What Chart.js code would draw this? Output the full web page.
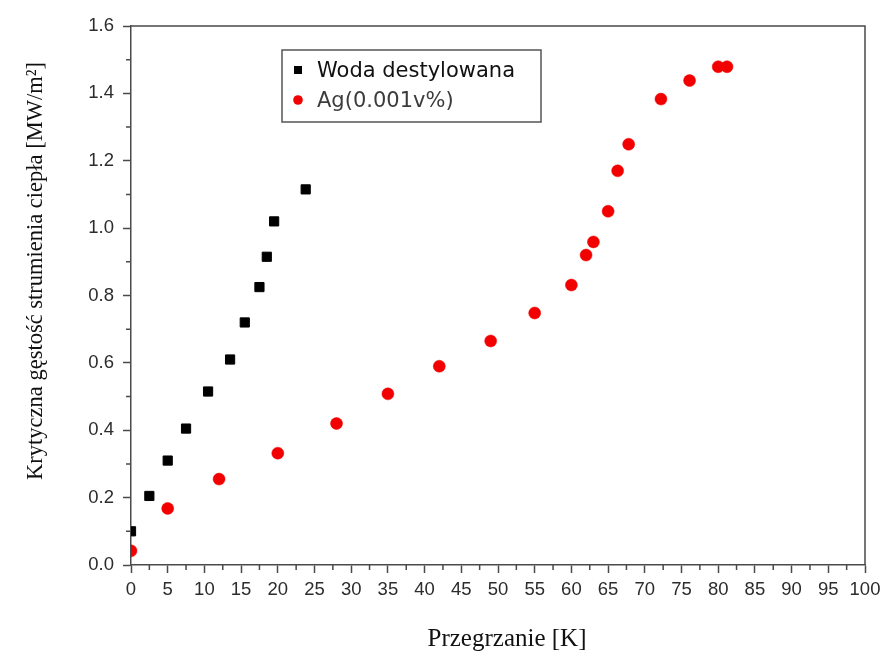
<!DOCTYPE html>
<html>
<head>
<meta charset="utf-8">
<script src="https://cdn.jsdelivr.net/npm/chart.js@4"></script>
<style>
    html, body { margin: 0; padding: 0; background: #fff; }
    canvas { display: block; }
</style>
</head>
<body>
<canvas id="chfChart" width="887" height="652"></canvas>
<script>
// superheat [K] vs critical heat flux [MW/m2]
const waterX = [0, 2.5, 5, 7.5, 10.5, 13.5, 15.5, 17.5, 18.5, 19.5, 23.8];
const waterY = [0.10, 0.205, 0.31, 0.405, 0.515, 0.61, 0.72, 0.825, 0.915, 1.02, 1.115];
const agX = [0, 5, 12, 20, 28, 35, 42, 49, 55, 60, 62, 63, 65, 66.3, 67.8, 72.2, 76.1, 80, 81.2];
const agY = [0.042, 0.168, 0.255, 0.332, 0.42, 0.508, 0.59, 0.665, 0.748, 0.831, 0.92, 0.959, 1.05, 1.17, 1.249, 1.383, 1.438, 1.479, 1.479];

const seriesNames = ['Woda destylowana', 'Ag(0.001v%)'];
const xTitle = 'Przegrzanie [K]';
const yTitle = 'Krytyczna gęstość strumienia ciepła [MW/m²]';

const axisColor = '#4a4a4a';
const tickFont = { family: 'Liberation Sans, Arial, sans-serif', size: 18.5 };

function toPoints(xs, ys) {
    return xs.map(function (x, i) { return { x: x, y: ys[i] }; });
}

// frame, minor ticks, axis titles and the boxed legend
const decorations = {
    id: 'decorations',
    afterDraw: function (chart) {
        const ctx = chart.ctx;
        const a = chart.chartArea;
        const xs = chart.scales.x;
        const ys = chart.scales.y;

        ctx.save();
        ctx.strokeStyle = axisColor;
        ctx.lineWidth = 1.5;
        ctx.beginPath();
        ctx.moveTo(a.left, a.top);
        ctx.lineTo(a.right, a.top);
        ctx.lineTo(a.right, a.bottom);
        ctx.stroke();

        ctx.beginPath();
        for (let v = 2.5; v < 100; v += 5) {
            const px = xs.getPixelForValue(v);
            ctx.moveTo(px, a.bottom);
            ctx.lineTo(px, a.bottom + 5);
        }
        for (let v = 0.1; v < 1.6; v += 0.2) {
            const py = ys.getPixelForValue(v);
            ctx.moveTo(a.left, py);
            ctx.lineTo(a.left - 5, py);
        }
        ctx.stroke();

        // axis titles
        ctx.fillStyle = '#111';
        ctx.textAlign = 'center';
        ctx.textBaseline = 'alphabetic';
        ctx.font = '25px "Liberation Serif", "Times New Roman", serif';
        ctx.fillText(xTitle, 507, 646);

        ctx.translate(42, 271);
        ctx.rotate(-Math.PI / 2);
        ctx.font = '22.5px "Liberation Serif", "Times New Roman", serif';
        ctx.fillText(yTitle, 0, 0);
        ctx.restore();

        // legend box
        ctx.save();
        ctx.fillStyle = '#fff';
        ctx.fillRect(282, 50, 259, 72);
        ctx.strokeStyle = '#555';
        ctx.lineWidth = 1.5;
        ctx.strokeRect(282, 50, 259, 72);

        ctx.fillStyle = '#000';
        ctx.fillRect(294, 66, 8, 8);
        ctx.fillStyle = '#f00000';
        ctx.beginPath();
        ctx.arc(298, 100, 4.8, 0, Math.PI * 2);
        ctx.fill();

        ctx.font = '21px "DejaVu Sans", Tahoma, sans-serif';
        ctx.textAlign = 'left';
        ctx.fillStyle = '#111';
        ctx.fillText(seriesNames[0], 317, 77);
        ctx.fillStyle = '#3c3c3c';
        ctx.fillText(seriesNames[1], 317, 107);
        ctx.restore();
    }
};

const ctx = document.getElementById('chfChart').getContext('2d');
new Chart(ctx, {
    type: 'scatter',
    data: {
        datasets: [{
            label: seriesNames[0],
            data: toPoints(waterX, waterY),
            pointStyle: 'rect',
            pointRadius: 6.5,
            backgroundColor: '#000',
            borderColor: '#000',
            borderWidth: 1,
            clip: { left: 0, top: false, right: false, bottom: false }
        }, {
            label: seriesNames[1],
            data: toPoints(agX, agY),
            pointStyle: 'circle',
            pointRadius: 6,
            backgroundColor: '#f20000',
            borderColor: '#f20000',
            borderWidth: 0.5,
            clip: { left: 0, top: false, right: false, bottom: false }
        }]
    },
    options: {
        responsive: false,
        animation: false,
        layout: { padding: { left: 0, right: 22, top: 26, bottom: 0 } },
        plugins: {
            legend: { display: false },
            tooltip: { enabled: false }
        },
        scales: {
            x: {
                type: 'linear',
                min: 0,
                max: 100,
                afterFit: function (scale) { scale.height = 87; },
                ticks: {
                    stepSize: 5,
                    color: '#2c2c2c',
                    font: tickFont,
                    padding: 6,
                    maxRotation: 0,
                    autoSkip: false
                },
                grid: { drawOnChartArea: false, drawTicks: true, tickLength: 8, tickColor: axisColor, tickWidth: 1.5 },
                border: { color: axisColor, width: 1.5 }
            },
            y: {
                type: 'linear',
                min: 0,
                max: 1.6,
                afterFit: function (scale) { scale.width = 131; },
                ticks: {
                    stepSize: 0.2,
                    color: '#2c2c2c',
                    font: tickFont,
                    padding: 9,
                    callback: function (v) { return v.toFixed(1); }
                },
                grid: { drawOnChartArea: false, drawTicks: true, tickLength: 8, tickColor: axisColor, tickWidth: 1.5 },
                border: { color: axisColor, width: 1.5 }
            }
        }
    },
    plugins: [decorations]
});
</script>
</body>
</html>
